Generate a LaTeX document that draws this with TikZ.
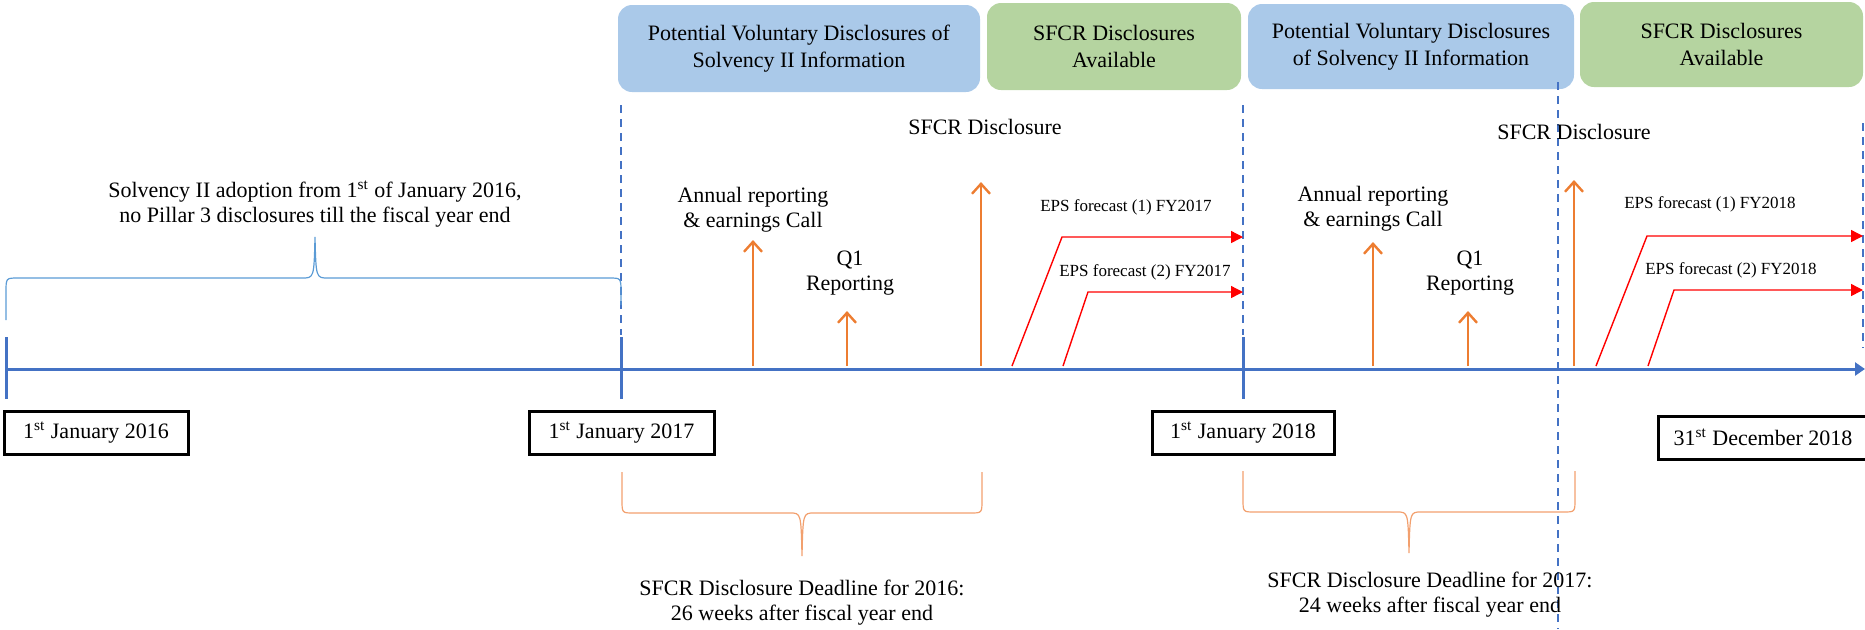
\documentclass[tikz,border=0pt]{standalone}
\usepackage{fontspec}
\setmainfont{Liberation Serif}
\usetikzlibrary{arrows.meta,positioning,calc}
\definecolor{axisblue}{RGB}{68,114,196}
\definecolor{braceblue}{RGB}{91,155,213}
\definecolor{boxblue}{RGB}{170,201,233}
\definecolor{boxgreen}{RGB}{181,212,160}
\definecolor{evtorange}{RGB}{237,125,49}
\definecolor{braceorange}{RGB}{242,160,110}

\begin{document}
\begin{tikzpicture}[x=0.5pt,y=-0.5pt,
    topbox/.style={rounded corners=7pt,align=center,inner sep=0pt,font=\fontsize{11}{13.5}\selectfont},
    datebox/.style={draw=black,line width=1.5pt,minimum height=21.5pt,inner sep=0pt,font=\fontsize{11}{13}\selectfont},
    lbl/.style={align=center,inner sep=0pt,font=\fontsize{11}{12.5}\selectfont},
    epslbl/.style={inner sep=0pt,font=\fontsize{8.5}{10}\selectfont},
    axis/.style={axisblue,line width=1.5pt},
    yearline/.style={axisblue,line width=1pt,dash pattern=on 4pt off 3pt},
    event/.style={evtorange,line width=1.2pt,-{Straight Barb[length=5pt,width=9pt]}},
    eps/.style={red,line width=0.7pt,-{Triangle[length=6pt,width=6pt]}},
    bracket/.style={line width=0.6pt}]
    \useasboundingbox (0,0) rectangle (1865,629);
    % Disclosure periods on top
    \node[topbox,fill=boxblue,minimum width=181pt,minimum height=43.5pt] (vol17) at (799,48.5) {Potential Voluntary Disclosures of\\Solvency II Information};
    \node[topbox,fill=boxgreen,minimum width=127pt,minimum height=43.5pt] (sfcr17) at (1114,46.5) {SFCR Disclosures\\Available};
    \node[topbox,fill=boxblue,minimum width=163pt,minimum height=42.5pt] (vol18) at (1411,46.5) {Potential Voluntary Disclosures\\of Solvency II Information};
    \node[topbox,fill=boxgreen,minimum width=141.5pt,minimum height=42.5pt] (sfcr18) at (1721.5,44.5) {SFCR Disclosures\\Available};
    % Year boundaries
    \draw[yearline] (621,105) -- (621,335);
    \draw[yearline] (1243,105) -- (1243,335);
    \draw[yearline] (1558,82) -- (1558,629);
    \draw[yearline] (1863,123) -- (1863,348);
    % Time line and ticks
    \coordinate (axisend) at (1865,369);
    \foreach \n/\x in {t16/6,t17/621,t18/1243} {
        \coordinate (\n) at (\x,369);
        \draw[axis] (\x,337) -- (\x,399);
    }
    \draw[axis,-{Triangle[length=5pt,width=6.5pt]}] (t16) -- (axisend);
    % Dates
    \node[datebox,minimum width=92pt] (d16) at (96,432.5) {1\textsuperscript{st} January 2016};
    \node[datebox,minimum width=92.5pt] (d17) at (621.5,432.5) {1\textsuperscript{st} January 2017};
    \node[datebox,minimum width=91pt] (d18) at (1243,432.5) {1\textsuperscript{st} January 2018};
    \node[datebox,minimum width=105pt] (d18end) at (1763,437.5) {31\textsuperscript{st} December 2018};
    % Braces
    \draw[bracket,braceblue] (6,320) -- (6,292) .. controls (6,278) .. (18,278) -- (302,278)
        .. controls (314,278) .. (315,237) .. controls (316,278) .. (328,278) -- (609,278)
        .. controls (621,278) .. (621,292) -- (621,305);
    \draw[bracket,braceorange] (622,472) -- (622,500) .. controls (622,513) .. (634,513) -- (790,513)
        .. controls (801,513) .. (802,556) .. controls (803,513) .. (814,513) -- (970,513)
        .. controls (982,513) .. (982,500) -- (982,472);
    \draw[bracket,braceorange] (1243,471) -- (1243,499) .. controls (1243,512) .. (1255,512) -- (1397,512)
        .. controls (1408,512) .. (1409,553) .. controls (1410,512) .. (1421,512) -- (1563,512)
        .. controls (1575,512) .. (1575,499) -- (1575,471);
    \node[lbl] (adopt) at (315,204) {Solvency II adoption from 1\textsuperscript{st} of January 2016,\\no Pillar 3 disclosures till the fiscal year end};
    \node[lbl] (due16) at (802,603) {SFCR Disclosure Deadline for 2016:\\26 weeks after fiscal year end};
    \node[lbl] (due17) at (1430,595) {SFCR Disclosure Deadline for 2017:\\24 weeks after fiscal year end};
    % Events
    \foreach \n/\x/\y in {ann17/753/240,qone17/847/311,pub17/981/182,ann18/1373/242,qone18/1468/311,pub18/1574/180} {
        \coordinate (\n-base) at (\x,366);
        \coordinate (\n-tip) at (\x,\y);
        \draw[event] (\n-base) -- (\n-tip);
    }
    \node[lbl] (annlbl17) at (753,209.5) {Annual reporting\\\& earnings Call};
    \node[lbl] (qlbl17) at (850,273) {Q1\\Reporting};
    \node[lbl] (publbl17) at (985,127) {SFCR Disclosure};
    \node[lbl] (annlbl18) at (1373,209) {Annual reporting\\\& earnings Call};
    \node[lbl] (qlbl18) at (1470,273) {Q1\\Reporting};
    \node[lbl] (publbl18) at (1574,132) {SFCR Disclosure};
    % EPS forecasts
    \foreach \n/\xa/\xb/\yb/\xc in {epsa17/1012/1062/237/1243,epsb17/1063/1088/292/1243,epsa18/1596/1647/236/1863,epsb18/1648/1674/290/1863} {
        \coordinate (\n-start) at (\xa,366);
        \coordinate (\n-bend) at (\xb,\yb);
        \coordinate (\n-end) at (\xc,\yb);
        \draw[eps] (\n-start) -- (\n-bend) -- (\n-end);
    }
    \node[epslbl] (epslbla17) at (1126,207) {EPS forecast (1) FY2017};
    \node[epslbl] (epslblb17) at (1145,272) {EPS forecast (2) FY2017};
    \node[epslbl] (epslbla18) at (1710,204) {EPS forecast (1) FY2018};
    \node[epslbl] (epslblb18) at (1731,270) {EPS forecast (2) FY2018};
\end{tikzpicture}
\end{document}
